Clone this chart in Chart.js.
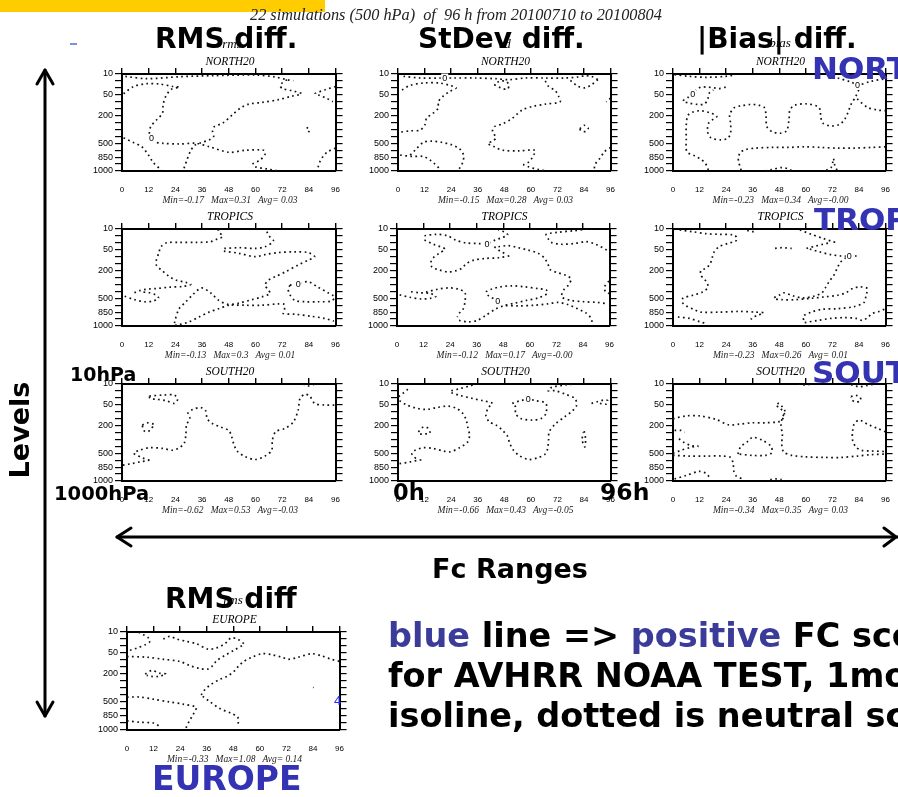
<!DOCTYPE html>
<html><head><meta charset="utf-8">
<script src="https://cdn.jsdelivr.net/npm/chart.js@4.4.1/dist/chart.umd.min.js"></script>
<style>
html,body{margin:0;padding:0;background:#fff;width:898px;height:797px;overflow:hidden;position:relative;}
canvas{position:absolute;}
svg{position:absolute;left:0;top:0;z-index:10;pointer-events:none;}
</style></head><body>
<script>
// ---------- DATA ----------
const hourTicks = [0,12,24,36,48,60,72,84,96];
const levelTickLabels = ['10','','','50','','','200','','','','500','','850','','1000'];
const panelRegion = ['NORTH20','NORTH20','NORTH20','TROPICS','TROPICS','TROPICS','SOUTH20','SOUTH20','SOUTH20','EUROPE'];
const statMin = [-0.17,-0.15,-0.23,-0.13,-0.12,-0.23,-0.62,-0.66,-0.34,-0.33];
const statMax = [0.31,0.28,0.34,0.3,0.17,0.26,0.53,0.43,0.35,1.08];
const statAvg = [0.03,0.03,-0,0.01,-0,0.01,-0.03,-0.05,0.03,0.14];

// contour lines: [hour, level index] (level index 0 = 10 hPa ... 14 = 1000 hPa)
const nhRmsLines = [
 [[0.7,2.85],[5.2,1.8],[11.1,1.4],[17,1.45],[23,1.8],[25.9,1.9],[22.2,2.2],[19.7,3.2],[18.5,4.4],[18.2,5.65],[15.6,6.6],[12.9,7.6],[12.3,8.8],[13.3,9.7],[18.5,10],[25.9,10.1],[33.3,10],[39.3,10.5],[48.1,11.3],[55.6,11],[63.7,11],[64.4,11.5],[62.2,12.4],[58.8,13],[60,13.4],[65.2,13.7],[70.4,14]],
 [[1.5,0.34],[11.1,0.68],[25.9,0.39],[40.7,0.24],[60,0.15],[68.9,0.43],[74.1,0.82],[77,0.97]],
 [[74.1,0.82],[71.1,1.6],[72.1,2.1],[76.3,2.4],[80.7,2.85],[76.3,3.2],[70.4,3.7],[63,4.1],[57,4.35],[53.3,4.9],[49.6,5.9],[45.2,7.1],[41.5,7.6],[40.7,8.3],[41.2,9],[39.3,9.5],[35.6,9.9],[32.6,10.3],[30.7,11.2],[29.2,12.4],[28.1,13.4],[27.4,14]],
 [[0.7,9.2],[5.2,9.9],[8.9,10.5],[11.9,11.7],[14.1,12.8],[17.8,13.9]],
 [[96,1.8],[91.1,2.3],[86.7,2.85],[88.9,3.1],[91.9,3.5],[94.8,4]],
 [[83,7.7],[84.4,8.1],[83.8,8.4]],
 [[96,10.7],[92.6,11.2],[90.4,11.9],[88.9,12.7],[88.1,13.5]]
];
const nhRmsZero = [[13.3,9.3]];

const nhStdLines = [
 [[2.5,0.34],[10,0.58],[18.9,0.58],[24.9,0.58],[35.3,0.58],[44.2,0.68],[50.1,0.82],[57.6,0.58],[66.5,0.58],[75.4,0.58],[81.4,0.43],[84.4,0.24],[87.4,0.34],[90.3,0.82]],
 [[90.3,0.82],[87.4,1.55],[84.4,2],[81.4,1.8],[78.4,1.06],[76.5,0.7]],
 [[43.5,1.55],[46.4,2.0],[49.4,2.2],[50.1,1.55],[48.7,1.06],[45.7,1.06],[43.5,1.55]],
 [[66.5,1.0],[68,1.8],[71,2.4],[72.5,3.2],[73.2,4],[66.5,4.35],[60.6,4.7],[56.1,5.2],[51.6,6.4],[47.2,7.2],[43.5,7.6],[42.7,8.3],[44.2,9.2],[42.7,9.7],[40.5,10],[43.5,10.5],[47.2,11],[54.6,11.1],[61.8,11],[61.3,11.7],[59.1,12.7],[56.8,13.1],[59.1,13.4],[63.5,13.8],[67.3,14]],
 [[1.8,2.3],[5.5,1.64],[11.5,1.3],[18.9,1.3],[23.4,1.64],[26.3,2.0],[23.4,2.5],[20.4,3.2],[18.2,4],[18.2,4.9],[15.9,5.65],[12.9,6.4],[12.2,7.3],[10,8.1],[5.5,8.2],[0.7,8.4]],
 [[5.5,11.7],[7.7,11],[11.5,9.85],[15.2,9.7],[19.6,9.85],[24.1,10.2],[27.8,10.8],[29.6,11.7],[29.3,12.7],[27.8,13.6],[27.1,14]],
 [[1,11.7],[6.25,11.9],[11.5,11.9],[14.4,12.4],[16.7,13],[18.6,13.6]],
 [[82.1,7.9],[84.1,7.4],[85.9,7.8],[84.8,8.3],[82.6,8.2],[82.1,7.9]],
 [[96,10.6],[93.3,11.2],[91.1,12.2],[89.1,13],[88.5,13.9]],
 [[96,3.5],[94,4]]
];
const nhStdZero = [[21.1,0.58]];

const nhBiasLines = [
 [[0.7,0.1],[7.4,0.34],[14.9,0.48],[23.8,0.34],[28.3,0.1]],
 [[74.4,0.58],[80.4,1.16],[83.5,1.6],[89.3,1.06],[96,0.68]],
 [[83.5,1.6],[84.1,2.0],[82.6,3.2],[80.4,4.4],[78.9,5.65],[77.4,6.6],[75.1,7.3],[71.4,7.5],[67.7,7.1],[66.7,6.1],[66.5,5.2],[65.5,4.7],[60.3,4.3],[55.1,4.5],[52.8,5.2],[52.4,6.6],[51.3,8.2],[48.4,8.55],[44.6,8.3],[42.4,7.6],[42,6.1],[41.4,4.9],[38.7,4.5],[35,4.4],[30.5,4.6],[27.5,4.9],[25.6,5.9],[26,7.1],[26,8.55],[24.6,9.3],[21.6,9.5],[17.1,9.2],[15.6,8.3],[16.1,7.1],[18.2,6.5],[19.8,6.1],[17.1,5.65],[12.6,5.3],[8.9,5.5],[6.7,6],[6,7.3],[6,9.3],[6.25,11.2],[9.7,11.8],[12.6,12.3],[14.6,12.9],[15.6,13.5],[16,14]],
 [[83.2,3.6],[87.8,4.8],[92.3,5.2],[96,5.3]],
 [[23.8,1.9],[20.8,2.1],[18.6,2.0],[15.6,1.9],[12.6,1.9],[10.4,2.3],[8.9,2.9],[6.7,3.4],[4.5,3.9],[7.4,4.2],[11.2,4.4],[14.1,4.35],[15.6,3.7],[16.4,2.75],[18.2,2.3]],
 [[96,10.5],[89.3,10.6],[81.8,10.7],[74.4,10.7],[67,10.6],[59.5,10.5],[52.1,10.6],[44.6,10.6],[37.2,10.7],[32.7,10.9],[30.5,11.3],[29.5,12.1],[29.8,12.9],[30.5,13.5],[30.8,14]],
 [[41.7,14],[44.6,13.8],[49.1,13.5],[52.1,13.7],[53.9,14]],
 [[69.2,13.9],[71.4,13.5],[72.2,12.7],[72.5,12.2],[73,13.1],[74.1,13.9]]
];
const nhBiasZero = [[8.9,2.9],[83.3,1.64]];

const trRmsLines = [
 [[43.2,0],[43.5,0.39],[45.3,1.1],[42.8,1.45],[39.8,1.83],[33.1,1.93],[25.7,1.93],[20.1,1.98],[17.5,2.56],[16.5,3.5],[15.3,4.7],[15.6,5.3],[18,6],[21,6.8],[24.5,7.4],[28.7,7.7],[30.9,8.0],[27.2,8.3],[21.2,8.4],[15.3,8.6],[10.8,8.7],[7.9,8.9],[5.6,9.2]],
 [[1.2,9.7],[5.6,10.2],[10.1,10.5],[13.8,10.4],[16.5,10.0],[15,9.5],[12.3,9.2],[9,9.1]],
 [[23.6,13.6],[23.8,13.2],[25.7,11.5],[28.7,10.5],[32.4,9.3],[35.8,8.5],[39.8,9.2],[43.5,10.3],[48,10.9],[55.4,11],[62.9,11],[70.3,10.8],[73,10.9],[73,11.7],[72.5,12.2],[77.7,12.3],[85.1,12.6],[91.1,12.9],[95.2,13.3]],
 [[65.1,0.39],[66.1,1.0],[68.1,1.74],[64.3,2.56],[59.9,2.8],[52.5,2.7],[45.8,2.8]],
 [[45.8,3.2],[52.5,3.5],[59.9,4.0],[64.3,3.7],[70.3,3.4],[77.7,3.3],[83.7,3.4],[86.6,4.0],[83.7,4.5],[79.2,5.2],[73.3,6.2],[68.8,6.9],[65.8,7.4],[64.3,8.1],[65.8,8.8],[66.6,9.3],[62.9,9.8],[58.4,10.2],[52.5,10.7],[48,11],[43.5,11.5],[39.1,12],[34.6,12.7],[30.2,13.4],[25.7,13.8],[22,14]],
 [[75.5,8.1],[79.2,7.9],[83.7,7.6],[88.1,8.4],[92.6,9.2],[95.5,9.8],[94.1,10.4],[88.1,10.5],[82.2,10.5],[77.7,10.3],[75.5,9.5],[74.7,8.7],[75.5,8.1]]
];
const trRmsZero = [[79.2,7.9]];

const trStdLines = [
 [[12.4,0.97],[17.6,0.77],[22.8,0.97],[26.5,1.6],[31,2.0],[36.9,2.1],[40.6,2.1],[44.3,1.6],[47.3,1.26],[50,0.87],[48.8,0.48],[45.8,0.14]],
 [[12.4,1.6],[16.4,2.2],[21.7,2.9],[19,3.5],[16.4,4.15],[15.3,4.8],[15.8,5.5],[19,5.9],[23.2,6.2],[26.8,6.0],[29.5,5.6],[31.3,5.0],[34.7,4.5],[39.9,4.25],[45.8,4.15],[51,3.86]],
 [[44,2.56],[46.6,3.2],[49.6,3.7]],
 [[45.8,2.56],[50.3,2.4],[54.8,2.7],[59.2,3.04],[63.7,3.5],[66.7,4.25],[68.2,5.1],[69.3,5.9],[72.6,6.3],[76.3,6.7],[78.6,7.2],[77.4,8.1],[75.3,8.8],[74.4,9.8],[78.6,10.3],[84.5,10.5],[90.5,10.6],[95.2,10.8]],
 [[88.2,0],[84.5,0.05],[80.1,0.24],[72.6,0.48],[67.4,0.77],[68.2,1.35],[69.6,1.93],[74.1,2.2],[80.1,2.1],[85.3,1.83],[89.7,2.2],[94.9,3.04]],
 [[1.2,9.5],[5.7,9.85],[10.9,10.1],[15.3,10.0],[17.6,9.7],[14.9,9.3],[10.1,9.2],[4.9,9.0]],
 [[13.1,9.1],[18.3,8.7],[23.5,8.5],[28,8.7],[30.7,9.2],[30.7,10.5],[29.8,11.6],[28,12.2],[27.2,12.7]],
 [[28,13.2],[32.4,13.4],[36.2,13.2],[39.9,12.5],[44.3,11.6],[48.1,11.1],[54.8,11.1],[62.2,11.0],[68.2,10.8],[72.6,10.6],[77.1,10.9],[81.5,11.5],[85.3,12.1],[87.5,12.8],[88.2,13.5]],
 [[45.5,10.4],[44,10.1],[41.4,9.66],[40.2,9.1],[42.6,8.7],[46.6,8.35],[51.8,8.2],[57.7,8.35],[63.7,8.6],[67.4,8.8],[67.9,9.3],[63.7,9.95],[58.5,10.3],[53.3,10.7],[48.8,11.0]],
 [[95.7,7.5],[93.75,8.35],[94.2,9.1],[95.7,9.3]]
];
const trStdZero = [[40.6,2.1],[45.5,10.4]];

const trBiasLines = [
 [[3,0.14],[8.9,0.39],[14.9,0.68],[20.8,0.77],[27.5,0.87],[29,1.35],[28.3,1.74],[24.6,2.1],[20.8,2.56],[18.6,3.3],[17.6,4.25],[16.7,5.1],[14.6,5.7],[12.6,6.0],[12.6,6.7],[14.1,7.2],[15.6,7.9],[15.6,8.5],[13.4,9.1],[8.9,9.56],[4.5,10.0],[4.2,10.6],[6,11.1],[9.4,11.6],[12.6,12.0],[20.8,12.0],[29.8,11.9],[37.2,12.0],[40.9,12.1],[37.9,12.5],[35.4,12.9],[36.5,13.5]],
 [[33.5,0.19],[35.7,0.39],[37.9,0.29]],
 [[57.3,0.14],[62.5,0.77],[67.7,1.35],[72.2,1.83],[74.4,1.93]],
 [[60.3,2.8],[64,2.5],[67.7,2.2],[71.4,1.93]],
 [[61.8,2.9],[66.2,3.3],[71.4,3.7],[75.9,3.9],[79.6,3.9],[83,3.9]],
 [[46.1,2.8],[49.1,2.7],[53.6,2.8]],
 [[78.1,4.15],[75.6,4.8],[74.1,5.7],[72.6,6.7],[70.7,7.5],[68.8,8.5],[67.3,9.2],[64,9.66],[58.8,9.95],[54.3,9.66],[49.9,9.2],[47.9,9.56],[45.5,10.0],[49.1,10.2],[55.1,10.2],[62.5,10.0],[68.5,9.8],[74.4,9.56],[78.1,9.2],[81.1,8.6],[84.5,8.35],[87.8,8.6],[87.2,9.56],[86.3,10.6],[81.8,11.2],[74.4,11.5],[67,11.6],[62.5,12.0],[58.8,12.6],[59.2,13.3]],
 [[59.5,13.5],[65.5,13.2],[71.4,12.9],[77.4,12.8],[82.6,12.9],[85.6,13.2],[87.8,12.8],[90,12.2],[93,11.9],[96,11.5]],
 [[2.2,12.7],[7.4,12.9],[12.2,13.4],[15.6,13.7]]
];
const trBiasZero = [[79.6,3.9]];

const shRmsLines = [
 [[12.3,1.74],[18.3,1.6],[23.5,1.6],[25,2.2],[23.5,2.8],[19.8,2.4],[15.3,2.2],[12.6,2.1],[12.3,1.74]],
 [[9.1,5.9],[11.6,5.6],[14.6,5.9],[13.1,6.4],[11.6,6.9],[9.7,6.7],[9.1,5.9]],
 [[12.3,11.0],[9.5,10.7],[5.3,10.0],[7.9,9.56],[12.3,9.2],[18.3,9.3],[22.7,9.56],[25.7,9.2],[27.9,8.6],[28.7,7.4],[29,5.9],[30.5,5.0],[29.7,4.15],[31.9,3.67],[35.4,3.4],[37.6,3.86],[38.3,5.0],[40.6,5.7],[44.3,6.2],[48,6.7],[49.2,7.5],[50.2,8.6],[51.7,9.66],[55.4,10.5],[59.9,10.9],[64.3,10.4],[67.3,9.56],[67.6,8.1],[69.1,6.9],[73.3,6.4],[77,5.5],[79.2,3.77],[80,2.1],[82.2,1.5],[84.4,1.74],[86.6,2.8],[91.1,3.04],[95.5,3.04]],
 [[0.4,11.7],[4.2,11.5],[7.9,11.25],[12.3,11.0]],
 [[81.4,0],[83.7,0.29],[86.6,0]]
];
const shRmsZero = [];

const shStdLines = [
 [[0.3,1.83],[2.2,1.35],[4,0.87],[5.5,0.39]],
 [[0.7,2.4],[4,3.04],[8.5,3.5],[12.9,3.67],[17.4,3.4],[22.6,3.2],[26.3,3.5],[29.3,4.25],[30.8,5.2],[31.5,6.2],[32.3,7.4],[31.5,8.35],[27.8,9.2],[23.4,9.8],[20.4,9.66],[15.9,9.3],[11.5,9.2],[7.7,9.56],[6.25,10.0],[7.3,10.5],[8.8,11.0]],
 [[0.7,11.5],[5.5,11.25],[9.2,11.0],[11.5,10.9]],
 [[9.2,6.9],[11.5,6.2],[13.7,6.4],[14.4,7.1],[12.2,7.2],[10,7.2],[9.2,6.9]],
 [[24.1,0.97],[27.8,0.68],[32.3,0.29],[35.3,0]],
 [[24.1,1.26],[27.8,1.64],[33.8,2.1],[38.2,2.4],[42.7,2.8],[40.9,3.38],[39.7,4.5],[41.2,5.46],[44.2,5.9],[47.2,6.7],[49.4,7.5],[50.4,8.5],[51.9,9.46],[54.6,10.3],[59.1,10.9],[63.5,10.6],[66.5,10.1],[67.6,9.3],[68,8.1],[68.3,6.9],[71,5.8],[75.4,4.7],[78.9,3.86],[80.7,3.04],[79.9,2.1],[75.4,1.45],[71,0.97],[67.7,0.97],[69.5,0.48],[75.4,0.14],[79.9,0]],
 [[51.6,2.8],[55.4,2.4],[58.8,2.2],[62.1,2.4],[66.8,2.8],[66.8,4.25],[64.7,4.97],[60.6,5.2],[55.4,4.97],[53.1,4.25],[53.1,3.3],[51.6,2.8]],
 [[87.4,2.8],[90,2.56],[93.3,2.3],[94.8,2.4],[94,2.9],[91.1,2.8]],
 [[84.1,6.8],[84.7,7.9],[84.4,9.1],[83.2,8.1],[83.6,7.0]]
];
const shStdZero = [[58.8,2.2]];

const shBiasLines = [
 [[56.5,0],[59.5,0.14],[62.5,0]],
 [[80.4,0.1],[84.1,0.39],[87.8,0.19],[91.1,0]],
 [[80.4,1.83],[82.6,1.64],[84.5,1.93],[84.8,2.4],[82.6,2.6],[80.8,2.3],[80.4,1.83]],
 [[0,5.0],[6,4.6],[11.9,4.6],[19.3,5.1],[25.3,5.9],[29.8,5.8],[35.7,5.6],[41.7,5.6],[47.6,5.46],[49.4,5.1],[50.3,4.25],[48.4,3.5],[46.4,3.04],[47.9,2.8],[49.4,3.3],[50.6,4.0],[49.4,4.8],[48.8,5.9],[49.4,7.4],[49.1,8.7],[50,9.8],[53.6,10.3],[59.5,10.5],[68.5,10.6],[75.9,10.6],[83.3,10.4],[89.3,10.2],[96,10.1]],
 [[96,6.9],[92.3,6.4],[87.8,5.8],[84.1,5.2],[81.8,5.8],[81.1,6.9],[81.1,8.1],[82.6,9.1],[85.1,9.56],[89.3,9.66],[96,9.75]],
 [[0.7,6.7],[3.7,6.7],[5.2,6.95]],
 [[2.7,7.9],[4.8,8.4],[8.2,8.9],[11.6,9.0]],
 [[0,10.0],[3.7,9.56],[7.4,9.2],[11.2,8.9]],
 [[0,10.3],[7.4,10.4],[14.9,10.4],[22.3,10.4],[26,10.6],[27.2,11.5],[27.4,12.5],[28.6,13.3],[31.5,13.7]],
 [[29.3,10.1],[30.5,9.1],[33.5,8.35],[36,7.7],[40.2,8.1],[44.3,9.0],[44.6,9.95],[41.7,10.3],[35.7,10.3],[29.3,10.1]],
 [[0.7,13.7],[6,13.2],[11.9,12.6],[14.9,12.9],[16.4,13.4]],
 [[43.9,13.8],[46.4,13.7],[49.1,13.8]]
];
const shBiasZero = [];

const euRmsLines = [
 [[5.2,0.05],[7.4,0.38],[9.7,0.86],[10.4,1.34],[8.2,1.82],[4.5,2.3],[1.5,2.6],[0,2.8]],
 [[0,3.5],[8.9,3.6],[16.4,3.9],[23.8,4.2],[28.3,4.8],[32.7,5.2],[36.5,5.3],[38.7,4.8],[40.5,4.1],[43.9,3.4],[48.4,2.6],[52.8,1.8]],
 [[16.4,1.0],[19.3,0.62],[22.3,1.0],[26.8,1.34],[31.3,1.67],[36.5,2.44],[40.2,2.3],[43.5,1.82],[45.4,1.34],[46.9,0.86],[49.9,1.0],[52.8,1.67]],
 [[33.5,9.0],[35,8.3],[37.9,7.5],[41.7,6.8],[45.4,6.3],[48.4,5.6],[50.6,4.8],[52.8,4.2],[56.5,3.6],[61,3.1],[65.5,3.25],[69.9,3.6],[72.9,3.9],[77.4,3.6],[83.3,3.1],[87.8,3.4],[92.3,3.9],[96,4.2]],
 [[0,9.3],[6,9.3],[11.9,9.6],[19.3,10.0],[25.3,10.3],[31.3,10.75],[30.5,11.4],[29.3,12.1],[28,12.8],[26.5,13.8]],
 [[34.2,9.2],[37.2,9.9],[41.7,10.9],[46.9,11.6],[49.9,12.1],[50.3,12.8],[49.9,13.5]],
 [[0,12.7],[6,12.9],[11.9,13.0],[14.9,13.5]],
 [[8.2,6.0],[11.2,5.5],[14.9,5.9],[17.6,6.0],[14.1,6.35],[11.2,6.35],[8.9,6.2]],
 [[84.1,7.9],[84.3,7.95]]
];
const euRmsZero = [];

const panelLines = [nhRmsLines,nhStdLines,nhBiasLines,trRmsLines,trStdLines,trBiasLines,shRmsLines,shStdLines,shBiasLines,euRmsLines];
const panelZeros = [nhRmsZero,nhStdZero,nhBiasZero,trRmsZero,trStdZero,trBiasZero,shRmsZero,shStdZero,shBiasZero,euRmsZero];

// ---------- LAYOUT (plot-area boxes: left, top, width, height) ----------
const layout = [
 [122,74,216,97],[398,74,215,97],[673,74,215,97],
 [122,229,216,97],[397,229,215,97],[673,229,215,97],
 [122,384,216,97],[398,384,215,97],[673,384,215,97],
 [127,632,215,98]];

const PAD_L=46, PAD_R=16, PAD_T=22, PAD_B=40;

const zeroLabelPlugin = {
  id:'zeroLabels',
  afterDatasetsDraw(chart, args, opts){
    const ctx = chart.ctx, xs = chart.scales.x, ys = chart.scales.y;
    ctx.save();
    ctx.font = '9px "Liberation Sans", Arial, sans-serif';
    ctx.textAlign='center'; ctx.textBaseline='middle';
    (opts.points||[]).forEach(p=>{
      const px = xs.getPixelForValue(p[0]), py = ys.getPixelForValue(p[1]);
      ctx.fillStyle='#fff'; ctx.fillRect(px-3.5,py-4.5,7,9);
      ctx.fillStyle='#000'; ctx.fillText('0',px,py+0.5);
    });
    ctx.restore();
  }
};

function makePanel(i){
  const [L,T,W,H] = layout[i];
  const cv = document.createElement('canvas');
  cv.width = W+PAD_L+PAD_R; cv.height = H+PAD_T+PAD_B;
  cv.style.left=(L-PAD_L)+'px'; cv.style.top=(T-PAD_T)+'px';
  cv.style.width=cv.width+'px'; cv.style.height=cv.height+'px';
  document.body.appendChild(cv);
  const hourTickFn = s=>{ s.ticks = hourTicks.map(v=>({value:v})); };
  const levelTickFn = s=>{ s.ticks = levelTickLabels.map((_,k)=>({value:k})); };
  const border = {display:true,color:'#000',width:2};
  new Chart(cv,{
    type:'scatter',
    data:{datasets: panelLines[i].map(line=>({
      data: line.map(p=>({x:p[0],y:p[1]})),
      showLine:true, borderColor:'#111', borderWidth:1.7, borderDash:[1.7,3.4],
      pointRadius:0, tension:0.3, fill:false
    }))},
    options:{
      responsive:false, animation:false, events:[],
      layout:{padding:0},
      plugins:{legend:{display:false},tooltip:{enabled:false},zeroLabels:{points:panelZeros[i]}},
      scales:{
        x:{type:'linear',position:'bottom',min:0,max:96,afterBuildTicks:hourTickFn,
           ticks:{autoSkip:false,maxRotation:0,padding:14,color:'#000',font:{family:'"Liberation Sans", Arial, sans-serif',size:8}},
           grid:{drawOnChartArea:false,drawTicks:false},border,
           afterFit:s=>{s.height=PAD_B;}},
        xTop:{type:'linear',position:'top',min:0,max:96,afterBuildTicks:hourTickFn,
           ticks:{display:false},
           grid:{drawOnChartArea:false,drawTicks:true,tickLength:6,color:'#000',lineWidth:1.4},border,
           afterFit:s=>{s.height=PAD_T;}},
        y:{type:'linear',position:'left',reverse:true,min:0,max:14,afterBuildTicks:levelTickFn,
           ticks:{autoSkip:false,padding:2,color:'#000',font:{family:'"Liberation Sans", Arial, sans-serif',size:9},
                  callback:(v)=>levelTickLabels[Math.round(v)]||''},
           grid:{drawOnChartArea:false,drawTicks:true,tickLength:7,color:'#000',lineWidth:1.2},border,
           afterFit:s=>{s.width=PAD_L;}},
        yRight:{type:'linear',position:'right',reverse:true,min:0,max:14,afterBuildTicks:levelTickFn,
           ticks:{display:false},
           grid:{drawOnChartArea:false,drawTicks:true,tickLength:7,color:'#000',lineWidth:1.2},border,
           afterFit:s=>{s.width=PAD_R;}}
      }
    },
    plugins:[zeroLabelPlugin]
  });
}
for(let i=0;i<layout.length;i++) makePanel(i);

// ---------- TEXT / DECORATION OVERLAY ----------
const NS='http://www.w3.org/2000/svg';
const svg=document.createElementNS(NS,'svg');
svg.setAttribute('width','898'); svg.setAttribute('height','797');
document.body.appendChild(svg);
function el(tag,attrs,text){const e=document.createElementNS(NS,tag);for(const k in attrs)e.setAttribute(k,attrs[k]);if(text!==undefined)e.textContent=text;svg.appendChild(e);return e;}
const SERIF='"Liberation Serif","Times New Roman",serif';
const BOLD='"DejaVu Sans",Verdana,sans-serif';
const BLUE='#3333B3';

el('rect',{x:0,y:0,width:325,height:12,fill:'#FFCC00'});
el('rect',{x:70,y:43,width:7,height:2,fill:'#7f8fe8'});
el('text',{x:250,y:19.5,'font-family':SERIF,'font-style':'italic','font-size':16.3,fill:'#222',style:'white-space:pre'},'22 simulations (500 hPa)  of  96 h from 20100710 to 20100804');

const fmtAvg = v => ((v<0||Object.is(v,-0))?'-':' ')+Math.abs(v).toFixed(2);
for(let i=0;i<layout.length;i++){
  const [L,T,W,H]=layout[i];
  const cx=L+W/2;
  el('text',{x:cx,y:T-9,'text-anchor':'middle','font-family':SERIF,'font-style':'italic','font-size':11.5,fill:'#000'},panelRegion[i]);
  el('text',{x:cx,y:T+H+32,'text-anchor':'middle','font-family':SERIF,'font-style':'italic','font-size':9.5,fill:'#222',style:'white-space:pre'},
     'Min='+statMin[i]+'   Max='+statMax[i]+'   Avg='+fmtAvg(statAvg[i]));
}
// small NCL left strings partly hidden
el('text',{x:232,y:48,'text-anchor':'middle','font-family':SERIF,'font-style':'italic','font-size':13},'rms');
el('text',{x:505,y:48,'text-anchor':'middle','font-family':SERIF,'font-style':'italic','font-size':13},'sd');
el('text',{x:780,y:47,'text-anchor':'middle','font-family':SERIF,'font-style':'italic','font-size':13},'bias');
el('text',{x:233,y:604,'text-anchor':'middle','font-family':SERIF,'font-style':'italic','font-size':13},'rms');
el('text',{x:334,y:705,'font-family':'"Liberation Sans",Arial,sans-serif','font-size':13,fill:'#2a2aff'},'4');

// big headings
const big=(x,y,s,t,fill,anchor)=>el('text',{x,y,'font-family':BOLD,'font-weight':'bold','font-size':s,fill:fill||'#000','text-anchor':anchor||'start',style:'white-space:pre'},t);
big(155,48,28,'RMS diff.');
big(418,48,28,'StDev diff.');
big(697,48,28,'|Bias| diff.');
big(812,79,31,'NORTH',BLUE);
big(814,230,31,'TROPICS',BLUE);
big(812,383,31,'SOUTH',BLUE);
big(165,608,28,'RMS diff');
big(152,790,33,'EUROPE',BLUE);
big(70,381,19,'10hPa');
big(54,500,19.5,'1000hPa');
big(393,500,22.5,'0h');
big(600,500,23.5,'96h');
big(510,578,27,'Fc Ranges','#000','middle');
el('text',{x:29,y:430,'font-family':BOLD,'font-weight':'bold','font-size':27,'text-anchor':'middle',transform:'rotate(-90 29 430)'},'Levels');

// bottom remark
const t1=el('text',{x:388,y:647,'font-family':BOLD,'font-weight':'bold','font-size':33.5,style:'white-space:pre'});
const sp=(p,t,f)=>{const s=document.createElementNS(NS,'tspan');if(f)s.setAttribute('fill',f);s.textContent=t;p.appendChild(s);};
sp(t1,'blue','#3b3b9a');sp(t1,' line => ');sp(t1,'positive','#3b3b9a');sp(t1,' FC score');
big(388,687,33.5,'for AVHRR NOAA TEST, 1month');
big(388,727,33.5,'isoline, dotted is neutral score');

// arrows
const arrow={stroke:'#000','stroke-width':3,fill:'none','stroke-linecap':'round','stroke-linejoin':'round'};
el('line',Object.assign({x1:45,y1:70,x2:45,y2:716},arrow));
el('polyline',Object.assign({points:'37,84 45,70 53,84'},arrow));
el('polyline',Object.assign({points:'37,702 45,716 53,702'},arrow));
el('line',Object.assign({x1:117,y1:537,x2:900,y2:537},arrow));
el('polyline',Object.assign({points:'131,528 117,537 131,546'},arrow));
el('polyline',Object.assign({points:'884,528 896,537 884,546'},arrow));
</script>
</body></html>
